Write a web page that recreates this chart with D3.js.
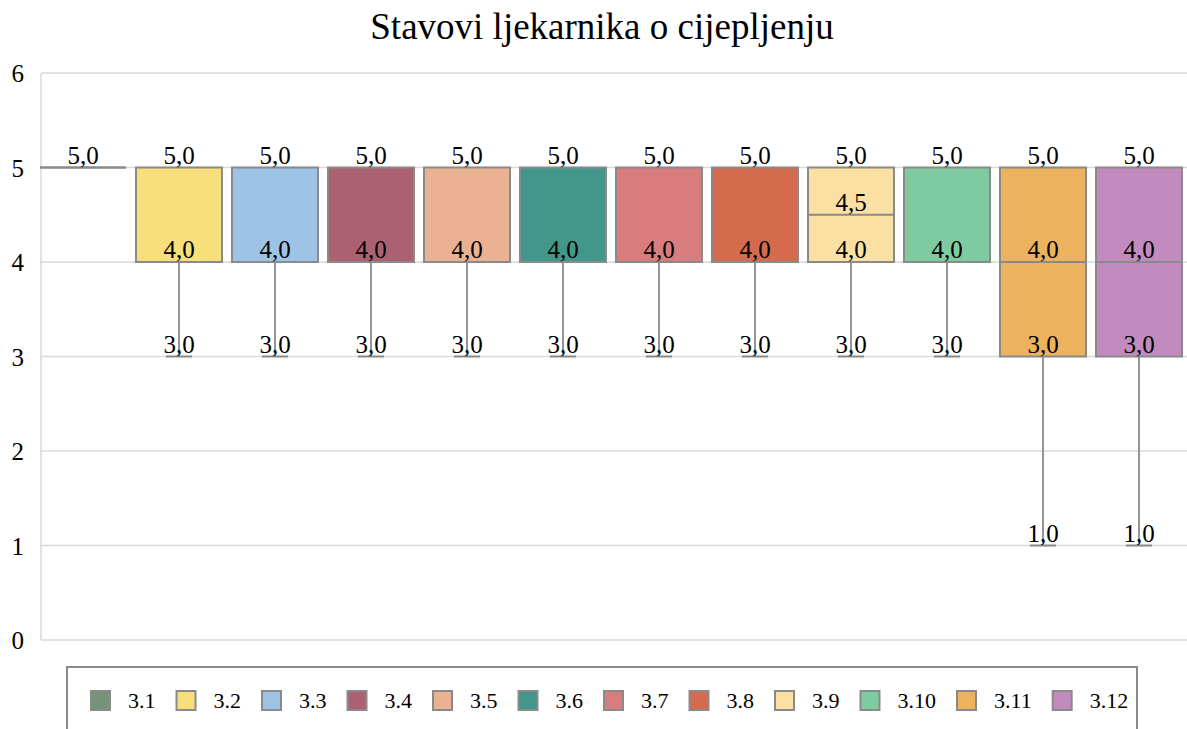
<!DOCTYPE html>
<html>
<head>
<meta charset="utf-8">
<script src="https://cdn.jsdelivr.net/npm/d3@7"></script>
<style>
  html, body { margin: 0; padding: 0; background: #fff; }
  svg { display: block; font-family: "Liberation Serif", "Times New Roman", serif; }
</style>
</head>
<body>
<svg id="chart" width="1187" height="729"></svg>
<script>
// ---- data ----
const categories = ["3.1","3.2","3.3","3.4","3.5","3.6","3.7","3.8","3.9","3.10","3.11","3.12"];
const minimums  = [5, 3, 3, 3, 3, 3, 3, 3, 3,   3, 1, 1];
const quartile1 = [5, 4, 4, 4, 4, 4, 4, 4, 4,   4, 3, 3];
const medians   = [5, 4, 4, 4, 4, 4, 4, 4, 4.5, 4, 4, 4];
const quartile3 = [5, 5, 5, 5, 5, 5, 5, 5, 5,   5, 5, 5];
const maximums  = [5, 5, 5, 5, 5, 5, 5, 5, 5,   5, 5, 5];
const yTicks = [0, 1, 2, 3, 4, 5, 6];
const colors = ["#76937a","#f7df7c","#9dc3e6","#ac6173","#eab293","#43978a",
                "#d97c7e","#d46b4c","#fbe0a3","#7ecba1","#edb25e","#c28bbf"];
const title = "Stavovi ljekarnika o cijepljenju";

// ---- layout ----
const svg = d3.select("#chart");
const plotLeft = 41, plotRight = 1187, plotTop = 73, plotBottom = 640;
const serif = "'Liberation Serif', 'Times New Roman', serif";

const y = d3.scaleLinear().domain([0, 6]).range([plotBottom, plotTop]);
const x = d3.scaleBand().domain(categories).range([35, 1187])
  .paddingInner(0.104).paddingOuter(0.052);
const color = d3.scaleOrdinal().domain(categories).range(colors);

const fmt = v => d3.format(".1f")(v).replace(".", ",");

// title
svg.append("text")
  .attr("x", 602).attr("y", 39)
  .attr("text-anchor", "middle")
  .attr("font-family", serif)
  .attr("font-size", 37)
  .attr("fill", "#000")
  .text(title);

// gridlines
svg.append("g").selectAll("line").data(yTicks).join("line")
  .attr("x1", plotLeft).attr("x2", plotRight)
  .attr("y1", d => y(d)).attr("y2", d => y(d))
  .attr("stroke", "#d9d9d9").attr("stroke-width", 1.5);

// y axis line
svg.append("line")
  .attr("x1", plotLeft).attr("x2", plotLeft)
  .attr("y1", y(6)).attr("y2", y(0))
  .attr("stroke", "#d9d9d9").attr("stroke-width", 1.5);

// y tick labels
const yAxis = d3.axisLeft(y).tickValues(yTicks).tickSize(0).tickPadding(0).tickFormat(d3.format("d"));
const gy = svg.append("g").attr("transform", `translate(24,0)`).call(yAxis);
gy.attr("font-family", serif).attr("font-size", 25);
gy.select(".domain").remove();
gy.selectAll("text")
  .attr("fill", "#000")
  .attr("dy", "0.35em");

// boxes
const data = categories.map((c, i) => ({
  cat: c, min: minimums[i], q1: quartile1[i], med: medians[i], q3: quartile3[i], max: maximums[i]
}));

const stroke = "#8a8a8a";
const g = svg.append("g");
data.forEach(d => {
  const x0 = x(d.cat), bw = x.bandwidth(), cx = x0 + bw / 2;
  const gg = g.append("g");
  if (d.min < d.q1) {
    gg.append("line").attr("x1", cx).attr("x2", cx)
      .attr("y1", y(d.q1)).attr("y2", y(d.min))
      .attr("stroke", stroke).attr("stroke-width", 1.8);
    gg.append("line").attr("x1", cx - 13).attr("x2", cx + 13)
      .attr("y1", y(d.min)).attr("y2", y(d.min))
      .attr("stroke", stroke).attr("stroke-width", 2);
  }
  if (d.max > d.q3) {
    gg.append("line").attr("x1", cx).attr("x2", cx)
      .attr("y1", y(d.q3)).attr("y2", y(d.max))
      .attr("stroke", stroke).attr("stroke-width", 1.8);
    gg.append("line").attr("x1", cx - 13).attr("x2", cx + 13)
      .attr("y1", y(d.max)).attr("y2", y(d.max))
      .attr("stroke", stroke).attr("stroke-width", 2);
  }
  if (d.q3 > d.q1) {
    gg.append("rect")
      .attr("x", x0).attr("y", y(d.q3))
      .attr("width", bw).attr("height", y(d.q1) - y(d.q3))
      .attr("fill", color(d.cat)).attr("stroke", stroke).attr("stroke-width", 2);
  } else {
    gg.append("line").attr("x1", x0).attr("x2", x0 + bw)
      .attr("y1", y(d.q1)).attr("y2", y(d.q1))
      .attr("stroke", stroke).attr("stroke-width", 2);
  }
  gg.append("line").attr("x1", x0).attr("x2", x0 + bw)
    .attr("y1", y(d.med)).attr("y2", y(d.med))
    .attr("stroke", stroke).attr("stroke-width", 2);
  const vals = Array.from(new Set([d.max, d.q3, d.med, d.q1, d.min]));
  vals.forEach(v => {
    gg.append("text")
      .attr("x", cx).attr("y", y(v) - 4)
      .attr("text-anchor", "middle")
      .attr("font-family", serif)
      .attr("font-size", 25).attr("fill", "#000")
      .text(fmt(v));
  });
});

// legend
const legTop = 667;
svg.append("rect")
  .attr("x", 67).attr("y", legTop).attr("width", 1070).attr("height", 90)
  .attr("fill", "none").attr("stroke", "#8a8a8a").attr("stroke-width", 2);

const leg = svg.append("g");
let lx = 91;
const ly = 691;
categories.forEach((c, i) => {
  leg.append("rect")
    .attr("x", lx).attr("y", ly).attr("width", 19).attr("height", 19)
    .attr("fill", color(c)).attr("stroke", "#8a8a8a").attr("stroke-width", 2);
  const t = leg.append("text")
    .attr("x", lx + 37).attr("y", ly + 17)
    .attr("font-family", serif)
    .attr("font-size", 22).attr("fill", "#000")
    .text(c);
  const tw = t.node().getComputedTextLength();
  lx += 37 + tw + 21;
});
</script>
</body>
</html>
